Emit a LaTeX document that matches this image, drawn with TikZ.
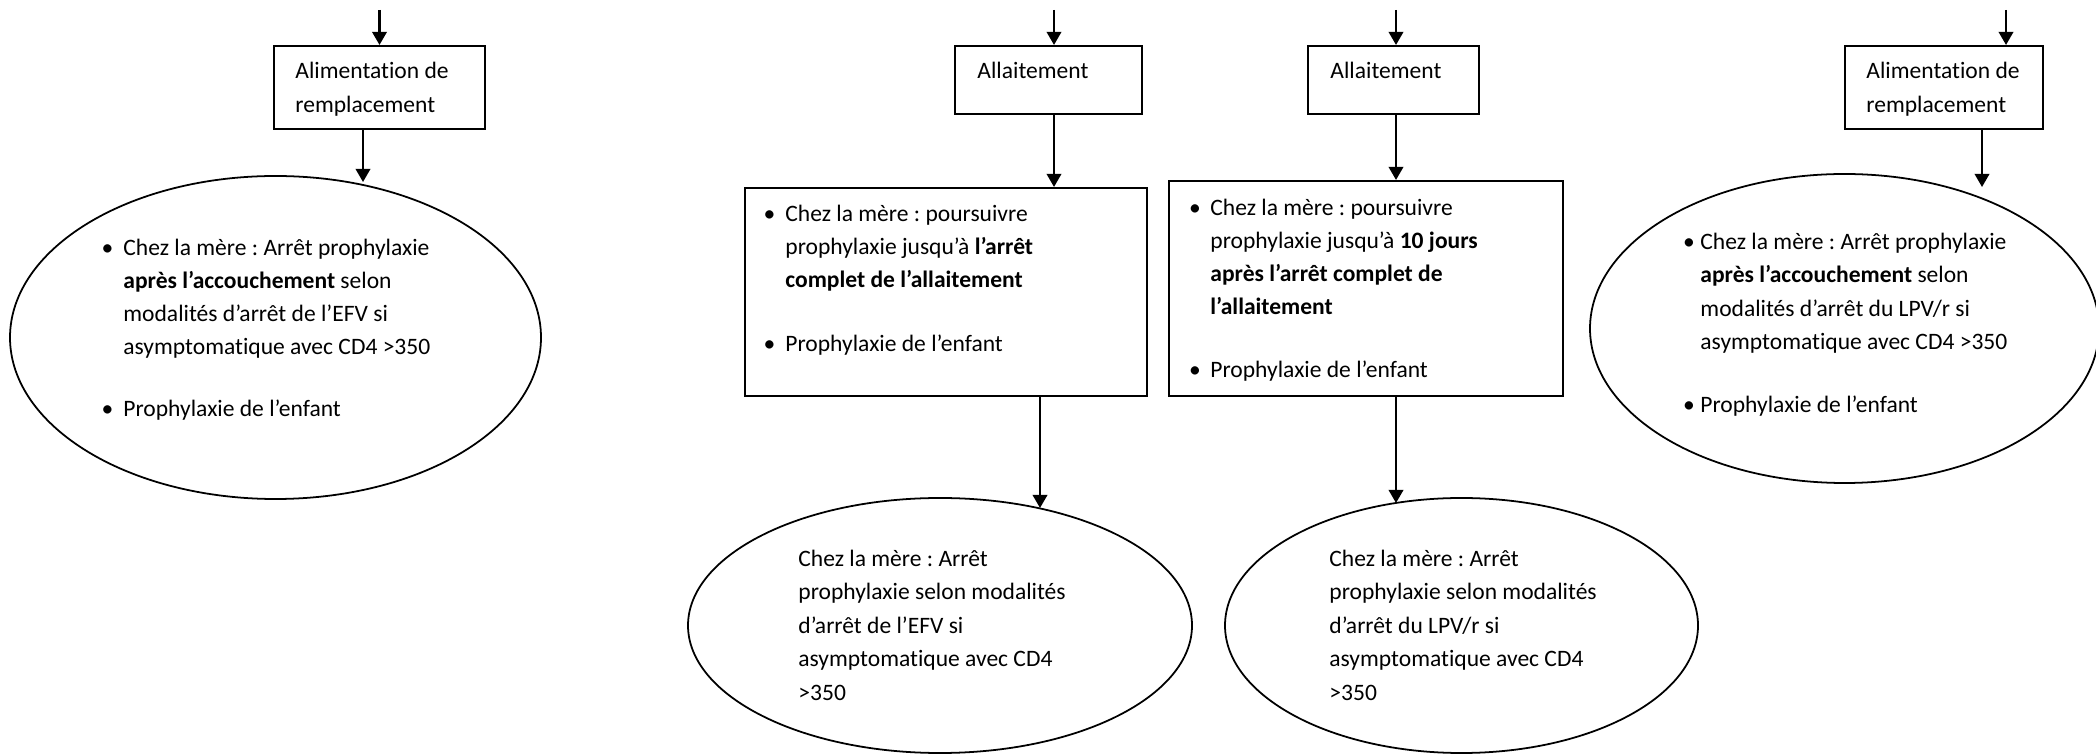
\documentclass[tikz,border=0pt]{standalone}
\usepackage{fontspec}
\setmainfont{Carlito}[Ligatures={NoCommon}]
\frenchspacing
\usetikzlibrary{arrows.meta,shapes.geometric}
\def\upx{0.48pt}
\begin{document}
\frenchspacing
\begin{tikzpicture}[x=0.48pt, y=-0.48pt,
  box/.style={draw, line width=1pt, rectangle, inner sep=0pt},
  ell/.style={draw, line width=0.85pt, ellipse, inner sep=0pt},
  arr/.style={line width=1pt, -{Triangle[length=6.3pt,width=7pt]}},
  txt/.style={inner sep=0pt, anchor=base west, font=\fontsize{11.3}{13}\selectfont},
  bul/.style={inner sep=0pt, anchor=base, font=\fontsize{11.3}{13}\selectfont}]
\useasboundingbox (0,0) rectangle (2096,754);

% ---------- column 1 ----------
\node[box, minimum width=211*\upx, minimum height=83*\upx] (b1) at (379.5,87.5) {};
\coordinate (t1) at (379.5,10);
\draw[arr] (t1) -- (b1.north);
\node[txt] (b1l1) at (295,79) {Alimentation de};
\node[txt] (b1l2) at (295,113) {remplacement};
\node[ell, minimum width=531*\upx, minimum height=323*\upx] (e1) at (275.5,337.5) {};
\coordinate (a1) at (363,182);
\draw[arr] (b1.south -| a1) -- (a1);
\node[bul] (e1b1) at (107.5,256) {•};
\node[txt] (e1l1) at (123,256) {Chez la mère : Arrêt prophylaxie};
\node[txt] (e1l2) at (123,289) {\textbf{après l’accouchement} selon};
\node[txt] (e1l3) at (123,322) {modalités d’arrêt de l’EFV si};
\node[txt] (e1l4) at (123,355) {asymptomatique avec CD4 >350};
\node[bul] (e1b2) at (107.5,417) {•};
\node[txt] (e1l5) at (123,417) {Prophylaxie de l’enfant};

% ---------- column 2 ----------
\node[box, minimum width=187*\upx, minimum height=68*\upx] (b2a) at (1048.5,80) {};
\coordinate (t2) at (1054,10);
\draw[arr] (t2) -- (t2 |- b2a.north);
\node[txt] (b2al1) at (977,79) {Allaitement};
\node[box, minimum width=402*\upx, minimum height=208*\upx] (b2b) at (946,292) {};
\draw[arr] (b2a.south -| t2) -- (b2b.north -| t2);
\node[bul] (b2bb1) at (769.5,222) {•};
\node[txt] (b2bl1) at (785,222) {Chez la mère : poursuivre};
\node[txt] (b2bl2) at (785,255) {prophylaxie jusqu’à \textbf{l’arrêt}};
\node[txt] (b2bl3) at (785,288) {\textbf{complet de l’allaitement}};
\node[bul] (b2bb2) at (769.5,352) {•};
\node[txt] (b2bl4) at (785,352) {Prophylaxie de l’enfant};
\node[ell, minimum width=504*\upx, minimum height=255*\upx] (e2) at (940,625.5) {};
\coordinate (a2) at (1040,508);
\draw[arr] (b2b.south -| a2) -- (a2);
\node[txt] (e2l1) at (798,567) {Chez la mère : Arrêt};
\node[txt] (e2l2) at (798,600) {prophylaxie selon modalités};
\node[txt] (e2l3) at (798,634) {d’arrêt de l’EFV si};
\node[txt] (e2l4) at (798,667) {asymptomatique avec CD4};
\node[txt] (e2l5) at (798,700) {>350};

% ---------- column 3 ----------
\node[box, minimum width=171*\upx, minimum height=68*\upx] (b3a) at (1393.5,80) {};
\coordinate (t3) at (1396,10);
\draw[arr] (t3) -- (t3 |- b3a.north);
\node[txt] (b3al1) at (1330,79) {Allaitement};
\node[box, minimum width=394*\upx, minimum height=215*\upx] (b3b) at (1366,288.5) {};
\draw[arr] (b3a.south -| t3) -- (b3b.north -| t3);
\node[bul] (b3bb1) at (1195,216) {•};
\node[txt] (b3bl1) at (1210,216) {Chez la mère : poursuivre};
\node[txt] (b3bl2) at (1210,249) {prophylaxie jusqu’à \textbf{10 jours}};
\node[txt] (b3bl3) at (1210,282) {\textbf{après l’arrêt complet de}};
\node[txt] (b3bl4) at (1210,315) {\textbf{l’allaitement}};
\node[bul] (b3bb2) at (1195,378) {•};
\node[txt] (b3bl5) at (1210,378) {Prophylaxie de l’enfant};
\node[ell, minimum width=473*\upx, minimum height=255*\upx] (e3) at (1461.5,625.5) {};
\coordinate (a3) at (1396,503);
\draw[arr] (b3b.south -| a3) -- (a3);
\node[txt] (e3l1) at (1329,567) {Chez la mère : Arrêt};
\node[txt] (e3l2) at (1329,600) {prophylaxie selon modalités};
\node[txt] (e3l3) at (1329,634) {d’arrêt du LPV/r si};
\node[txt] (e3l4) at (1329,667) {asymptomatique avec CD4};
\node[txt] (e3l5) at (1329,700) {>350};

% ---------- column 4 ----------
\node[box, minimum width=198*\upx, minimum height=83*\upx] (b4) at (1944,87.5) {};
\coordinate (t4) at (2006,10);
\draw[arr] (t4) -- (t4 |- b4.north);
\node[txt] (b4l1) at (1866,79) {Alimentation de};
\node[txt] (b4l2) at (1866,113) {remplacement};
\node[ell, minimum width=509*\upx, minimum height=309*\upx] (e4) at (1844.5,328.5) {};
\coordinate (a4) at (1982,187);
\draw[arr] (b4.south -| a4) -- (a4);
\node[bul] (e4b1) at (1689,250) {•};
\node[txt] (e4l1) at (1700,250) {Chez la mère : Arrêt prophylaxie};
\node[txt] (e4l2) at (1700,283) {\textbf{après l’accouchement} selon};
\node[txt] (e4l3) at (1700,317) {modalités d’arrêt du LPV/r si};
\node[txt] (e4l4) at (1700,350) {asymptomatique avec CD4 >350};
\node[bul] (e4b2) at (1689,413) {•};
\node[txt] (e4l5) at (1700,413) {Prophylaxie de l’enfant};
\end{tikzpicture}
\end{document}
